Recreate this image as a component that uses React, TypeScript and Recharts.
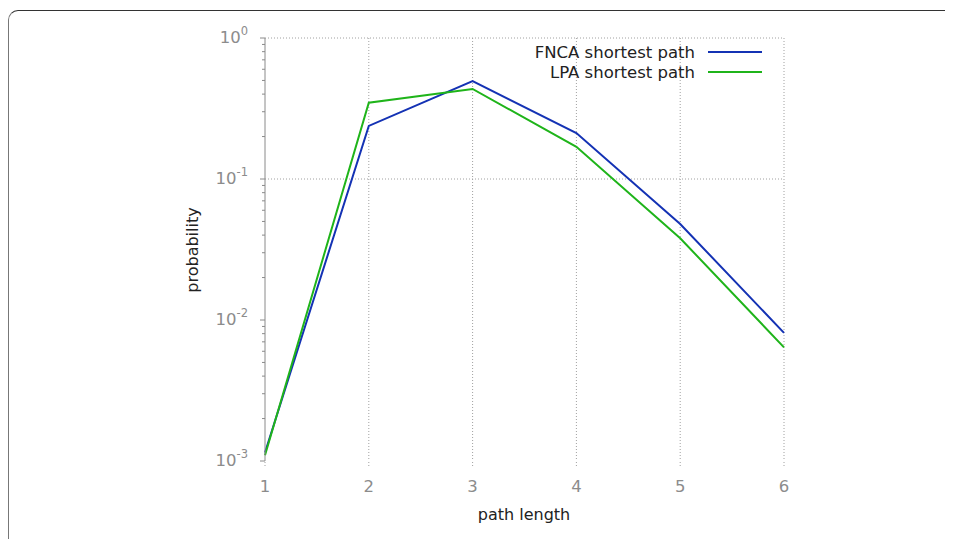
import React from 'react';
import { LineChart, Line, XAxis, YAxis, CartesianGrid, Legend, Label } from 'recharts';

const PATH_LENGTH = [1, 2, 3, 4, 5, 6];
const FNCA = [0.00115, 0.238, 0.495, 0.212, 0.048, 0.0081];
const LPA = [0.0011, 0.348, 0.435, 0.169, 0.038, 0.0064];

const MAJOR_Y = [0.001, 0.01, 0.1, 1];
const MINOR_STEPS = [2, 3, 4, 5, 6, 7, 8, 9];
const Y_GRID = [0.1, 1];
const X_GRID = [2, 3, 4, 5, 6];

const ALL_Y_TICKS = [
  ...MAJOR_Y,
  ...MAJOR_Y.slice(0, 3).flatMap((d) => MINOR_STEPS.map((m) => +(d * m).toPrecision(3))),
].sort((a, b) => a - b);

const data = PATH_LENGTH.map((x, i) => ({ x, fnca: FNCA[i], lpa: LPA[i] }));

const FONT = '"DejaVu Sans", Verdana, sans-serif';
const TICK_GREY = '#8c8c8c';
const AXIS_GREY = '#8a8a8a';

const YTick = (props: any) => {
  const { x, y, payload } = props;
  const v = payload.value;
  const lg = Math.log10(v);
  const major = Math.abs(lg - Math.round(lg)) < 1e-6;
  const len = major ? 5 : 3;
  return (
    <g>
      <line x1={x - len} y1={y} x2={x} y2={y} stroke={AXIS_GREY} strokeWidth={1} />
      {major && (
        <text x={x - 17} y={y + 5} textAnchor="end" fill={TICK_GREY} fontSize={16.5} fontFamily={FONT}>
          <tspan>10</tspan>
          <tspan dy={-8} fontSize={11.5}>{String(Math.round(lg))}</tspan>
        </text>
      )}
    </g>
  );
};

const KeyBox = (props: any) => {
  const items = props.payload || [];
  return (
    <div style={{ fontFamily: FONT, fontSize: 16.5, color: '#222' }}>
      {items.map((it: any) => (
        <div key={it.value} style={{ display: 'flex', justifyContent: 'flex-end', alignItems: 'center', height: 20 }}>
          <span>{it.value}</span>
          <span style={{ display: 'inline-block', width: 54, height: 2, background: it.color, marginLeft: 13 }} />
        </div>
      ))}
    </div>
  );
};

export default function App() {
  return (
    <>
      <div
        style={{
          marginTop: 2,
          width: 945,
          height: 529,
          boxSizing: 'border-box',
          borderTop: '1.5px solid #333',
          borderLeft: '1.5px solid #777',
          borderTopLeftRadius: 10,
        }}
      />
      <div style={{ position: 'absolute', left: 0, top: 0, width: 953, height: 541 }}>
        <LineChart width={953} height={541} data={data} margin={{ top: 38, right: 169, bottom: 30, left: 205 }}>
          <CartesianGrid
            stroke="#a0a0a0"
            strokeDasharray="1 2"
            horizontalValues={Y_GRID}
            verticalValues={X_GRID}
          />
          <XAxis
            dataKey="x"
            type="number"
            domain={[1, 6]}
            ticks={PATH_LENGTH}
            interval={0}
            height={50}
            axisLine={false}
            tickLine={{ stroke: '#a0a0a0', strokeDasharray: '1 2' }}
            tickSize={5}
            tickMargin={14}
            tick={{ fill: TICK_GREY, fontSize: 16.5, fontFamily: FONT }}
          >
            <Label
              content={() => (
                <text x={524} y={520} textAnchor="middle" fill="#222" fontSize={16} fontFamily={FONT}>
                  path length
                </text>
              )}
            />
          </XAxis>
          <YAxis
            scale="log"
            domain={[0.001, 1]}
            ticks={ALL_Y_TICKS}
            interval={0}
            allowDataOverflow
            width={60}
            axisLine={{ stroke: AXIS_GREY }}
            tickLine={false}
            tickSize={0}
            tickMargin={0}
            tick={<YTick />}
          >
            <Label
              content={() => (
                <text
                  x={198}
                  y={250}
                  textAnchor="middle"
                  fill="#222"
                  fontSize={16}
                  fontFamily={FONT}
                  transform="rotate(-90 198 250)"
                >
                  probability
                </text>
              )}
            />
          </YAxis>
          <Legend
            layout="vertical"
            align="center"
            verticalAlign="middle"
            content={<KeyBox />}
            wrapperStyle={{ left: 482, top: 42, width: 280 }}
          />
          <Line
            dataKey="fnca"
            name="FNCA shortest path"
            stroke="#1432b4"
            strokeWidth={2}
            dot={false}
            isAnimationActive={false}
          />
          <Line
            dataKey="lpa"
            name="LPA shortest path"
            stroke="#1fb41a"
            strokeWidth={2}
            dot={false}
            isAnimationActive={false}
          />
        </LineChart>
      </div>
    </>
  );
}
